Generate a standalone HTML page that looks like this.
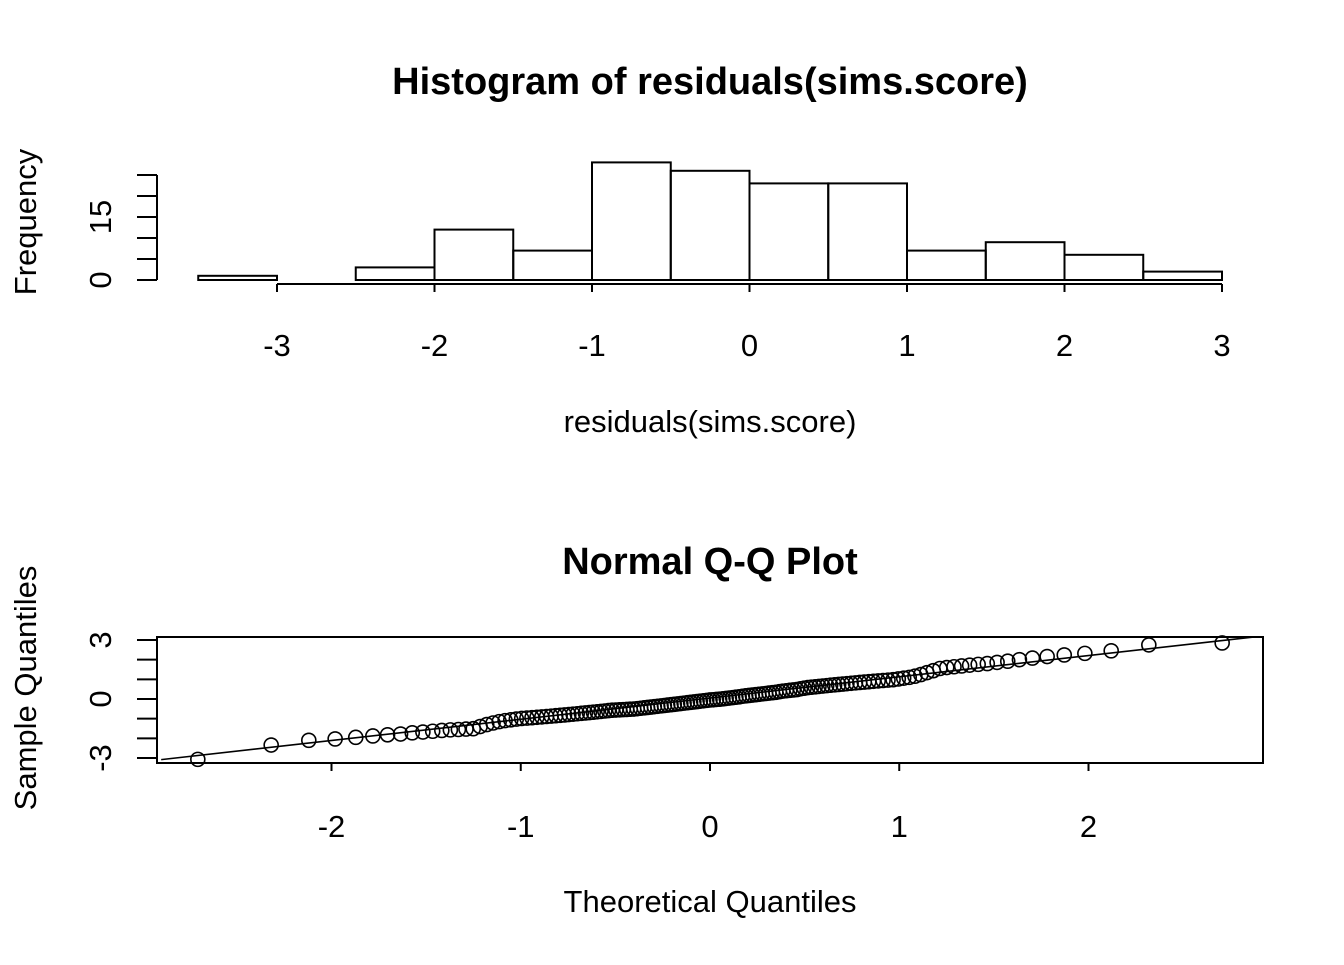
<!DOCTYPE html>
<html><head><meta charset="utf-8"><style>
body{margin:0;background:#fff}
svg text{font-family:"Liberation Sans",Arial,sans-serif;fill:#000}
</style></head><body>
<svg id="s" width="1344" height="960" xmlns="http://www.w3.org/2000/svg">
<rect width="1344" height="960" fill="#fff"/>
<g id="hist"></g>
<g id="qq"></g>
</svg>
<script>
const histBreaks=[-3.5,-3,-2.5,-2,-1.5,-1,-0.5,0,0.5,1,1.5,2,2.5,3];
const histCounts=[1,0,3,12,7,28,26,23,23,7,9,6,2];
const histXTicks=[-3,-2,-1,0,1,2,3];
const histYTicks=[0,5,10,15,20,25];
const histYLabels=[0,15];
const qqSample=[-3.07,-2.34,-2.1,-2.03,-1.95,-1.88,-1.82,-1.78,-1.72,-1.68,-1.64,-1.6,-1.57,-1.55,-1.53,-1.51,
-1.4,-1.3,-1.22,-1.15,-1.1,-1.06,-1.02,
-0.99,-0.97,-0.95,-0.93,-0.91,-0.89,-0.87,-0.85,-0.83,-0.81,-0.79,-0.77,-0.75,-0.73,-0.71,-0.69,-0.67,-0.65,-0.63,-0.61,-0.59,-0.57,-0.56,-0.55,-0.54,-0.53,-0.52,-0.51,
-0.49,-0.47,-0.45,-0.43,-0.41,-0.39,-0.37,-0.35,-0.33,-0.31,-0.29,-0.27,-0.25,-0.23,-0.21,-0.19,-0.17,-0.15,-0.13,-0.11,-0.09,-0.07,-0.05,-0.04,-0.02,-0.01,
0.01,0.03,0.05,0.07,0.09,0.11,0.14,0.16,0.18,0.2,0.22,0.24,0.26,0.28,0.3,0.32,0.34,0.37,0.4,0.42,0.44,0.46,0.48,
0.52,0.55,0.58,0.6,0.62,0.64,0.66,0.68,0.7,0.72,0.74,0.76,0.78,0.8,0.82,0.84,0.86,0.88,0.9,0.92,0.94,0.96,0.98,
1.02,1.06,1.1,1.16,1.24,1.34,1.44,
1.55,1.6,1.64,1.68,1.72,1.76,1.8,1.86,1.92,
2.0,2.08,2.16,2.24,2.32,2.45,2.75,2.85];
const qqXTicks=[-2,-1,0,1,2];
const qqYTicks=[-3,-2,-1,0,1,2,3];
const qqYLabels=[-3,0,3];
const qqLine=[0.05,1.08]; // intercept, slope

const NS="http://www.w3.org/2000/svg";
function mk(p,t,a){const e=document.createElementNS(NS,t);for(const k in a)e.setAttribute(k,a[k]);p.appendChild(e);return e;}
const H=document.getElementById('hist'),Q=document.getElementById('qq');
const FT=38,FS=31;
const hx=v=>277+(v+3)*157.5, hy=v=>280-v*4.2;
let t=mk(H,'text',{x:710,y:94,'font-size':FT,'font-weight':'bold','text-anchor':'middle'});t.textContent='Histogram of residuals(sims.score)';


histCounts.forEach((c,i)=>{const r=mk(H,'rect',{x:hx(histBreaks[i]),y:hy(c),width:hx(histBreaks[i+1])-hx(histBreaks[i]),height:hy(0)-hy(c),fill:'none',stroke:'#000','stroke-width':2});

});
mk(H,'line',{x1:hx(-3),x2:hx(3),y1:284,y2:284,stroke:'#000','stroke-width':2});
histXTicks.forEach(v=>{mk(H,'line',{x1:hx(v),x2:hx(v),y1:284,y2:292,stroke:'#000','stroke-width':2});
const l=mk(H,'text',{x:hx(v),y:356,'font-size':FS,'text-anchor':'middle'});l.textContent=v;

});
mk(H,'line',{x1:157,x2:157,y1:hy(0),y2:hy(25),stroke:'#000','stroke-width':2});
histYTicks.forEach(v=>mk(H,'line',{x1:157,x2:137,y1:hy(v),y2:hy(v),stroke:'#000','stroke-width':2}));
histYLabels.forEach(v=>{const l=mk(H,'text',{x:0,y:0,'font-size':FS,'text-anchor':'middle',transform:`translate(111,${hy(v)}) rotate(-90)`});l.textContent=v;

});
t=mk(H,'text',{x:710,y:432,'font-size':FS,'text-anchor':'middle'});t.textContent='residuals(sims.score)';


t=mk(H,'text',{x:0,y:0,'font-size':FS,'text-anchor':'middle',transform:'translate(36,222) rotate(-90)'});t.textContent='Frequency';



// QQ
const qx=v=>710+v*189.25, qy=v=>699-v*19.67;
function qnorm(p){const a=[-39.6968302866538,220.946098424521,-275.928510446969,138.357751867269,-30.6647980661472,2.50662827745924],b=[-54.4760987982241,161.585836858041,-155.698979859887,66.8013118877197,-13.2806815528857],c=[-0.00778489400243029,-0.322396458041136,-2.40075827716184,-2.54973253934373,4.37466414146497,2.93816398269878],d=[0.00778469570904146,0.32246712907004,2.445134137143,3.75440866190742];
let q,r;if(p<0.02425){q=Math.sqrt(-2*Math.log(p));return(((((c[0]*q+c[1])*q+c[2])*q+c[3])*q+c[4])*q+c[5])/((((d[0]*q+d[1])*q+d[2])*q+d[3])*q+1);}
if(p>1-0.02425){q=Math.sqrt(-2*Math.log(1-p));return-(((((c[0]*q+c[1])*q+c[2])*q+c[3])*q+c[4])*q+c[5])/((((d[0]*q+d[1])*q+d[2])*q+d[3])*q+1);}
q=p-0.5;r=q*q;return(((((a[0]*r+a[1])*r+a[2])*r+a[3])*r+a[4])*r+a[5])*q/(((((b[0]*r+b[1])*r+b[2])*r+b[3])*r+b[4])*r+1);}
t=mk(Q,'text',{x:710,y:574,'font-size':FT,'font-weight':'bold','text-anchor':'middle'});t.textContent='Normal Q-Q Plot';


const n=qqSample.length,a=n<=10?3/8:0.5;
const s=[...qqSample].sort((x,y)=>x-y);
s.forEach((v,i)=>{const c=mk(Q,'circle',{cx:qx(qnorm((i+1-a)/(n+1-2*a))),cy:qy(v),r:7,fill:'none',stroke:'#000','stroke-width':1.6});

});
const xl=-2.9,xr=2.9;
const ln=mk(Q,'line',{x1:qx(xl),y1:qy(qqLine[0]+qqLine[1]*xl),x2:qx(xr),y2:qy(qqLine[0]+qqLine[1]*xr),stroke:'#000','stroke-width':1.6});


mk(Q,'rect',{x:157,y:637,width:1106,height:126,fill:'none',stroke:'#000','stroke-width':2});
Q.insertBefore(mk(Q,'clipPath',{id:'cp'}),Q.firstChild);
mk(document.getElementById('cp'),'rect',{x:157,y:637,width:1106,height:126});
ln.setAttribute('clip-path','url(#cp)');
qqXTicks.forEach(v=>{mk(Q,'line',{x1:qx(v),x2:qx(v),y1:763,y2:771,stroke:'#000','stroke-width':2});
const l=mk(Q,'text',{x:qx(v),y:837,'font-size':FS,'text-anchor':'middle'});l.textContent=v;

});
qqYTicks.forEach(v=>mk(Q,'line',{x1:157,x2:137,y1:qy(v),y2:qy(v),stroke:'#000','stroke-width':2}));
qqYLabels.forEach(v=>{const l=mk(Q,'text',{x:0,y:0,'font-size':FS,'text-anchor':'middle',transform:`translate(111,${qy(v)}) rotate(-90)`});l.textContent=v;

});
t=mk(Q,'text',{x:710,y:912,'font-size':FS,'text-anchor':'middle'});t.textContent='Theoretical Quantiles';


t=mk(Q,'text',{x:0,y:0,'font-size':FS,'text-anchor':'middle',transform:'translate(36,688) rotate(-90)'});t.textContent='Sample Quantiles';


</script>
</body></html>
